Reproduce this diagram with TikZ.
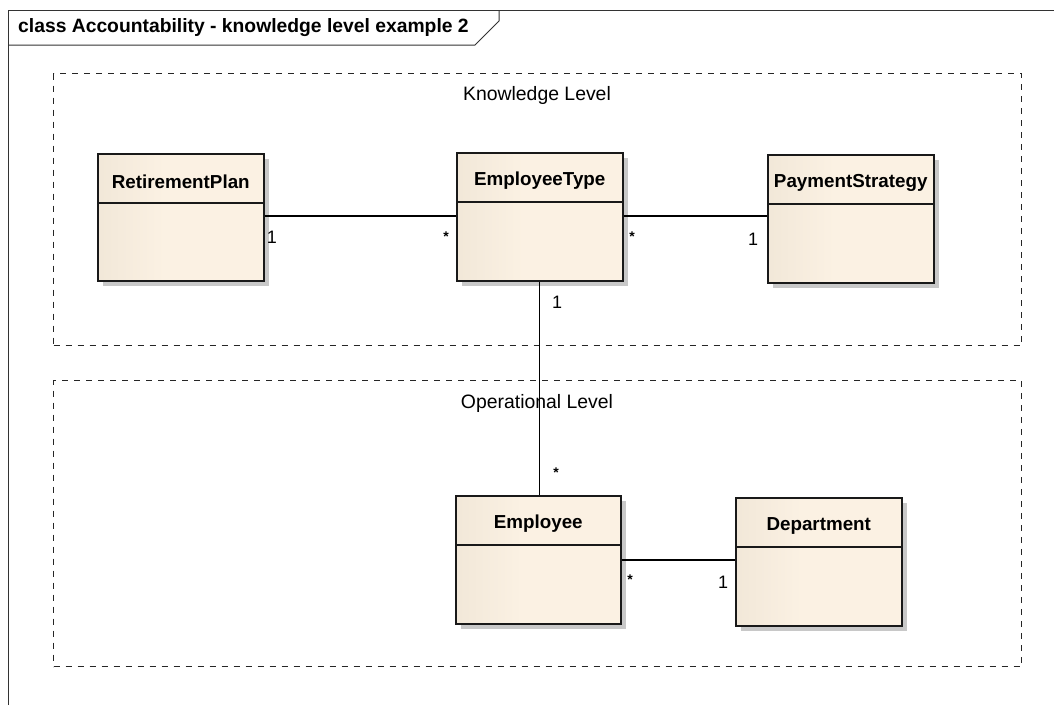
\documentclass[tikz,border=0pt]{standalone}
\usepackage{fontspec}
\setmainfont{Liberation Sans}
\usetikzlibrary{calc}
\definecolor{clsL}{RGB}{230,220,203}
\definecolor{clsR}{RGB}{251,241,227}
\definecolor{shadowc}{RGB}{200,200,200}
\definecolor{linec}{RGB}{25,25,25}
\pgfdeclarehorizontalshading{clsshade}{100bp}{color(0bp)=(clsL); color(45bp)=(clsR); color(100bp)=(clsR)}
\tikzset{
  cls/.style={draw=linec, line width=1.5pt, shading=clsshade, rectangle, inner sep=0pt},
  clsline/.style={draw=linec, line width=1.3pt},
  clsname/.style={font=\fontsize{18.8}{22}\selectfont\bfseries, inner sep=0pt},
  pkg/.style={draw=black!85, line width=1.1pt, dash pattern=on 6pt off 6pt, rectangle, inner sep=0pt},
  pkgname/.style={font=\fontsize{19.4}{23}\selectfont, inner sep=0pt},
  assoc/.style={draw=black, line width=1.2pt},
  mult/.style={font=\fontsize{18}{21}\selectfont, inner sep=0pt},
  star/.style={font=\fontsize{14}{16}\selectfont\bfseries, inner sep=0pt},
  frameline/.style={draw=black!80, line width=1pt}
}
\newcommand\umlclass[6]{%
  \fill[shadowc] (#2+6,#3+6) rectangle ++(#4,#5);
  \node[cls, minimum width=#4, minimum height=#5, anchor=north west] (#1) at (#2,#3) {};
  \draw[clsline] ([yshift=-50pt]#1.north west) -- ([yshift=-50pt]#1.north east);
  \node[clsname] (#1-name) at ([yshift=-29pt]#1.north) {#6};
}
\begin{document}
\begin{tikzpicture}[x=1pt, y=-1pt]
\useasboundingbox[fill=white] (0,0) rectangle (1054,705);
% frame
\draw[frameline] (8,705) -- (8,10) -- (1054,10);
\draw[frameline] (8,45) -- (475,45) -- (499,21) -- (499,10);
\node[font=\fontsize{19.3}{23}\selectfont\bfseries, anchor=west, inner sep=0pt] (title) at (18,28) {class Accountability - knowledge level example 2};
% packages
\node[pkg, minimum width=968, minimum height=272, anchor=north west] (kl) at (53,73) {};
\node[pkgname] (kl-name) at (537,95) {Knowledge Level};
\node[pkg, minimum width=968, minimum height=286, anchor=north west] (ol) at (53,380) {};
\node[pkgname] (ol-name) at (537,403) {Operational Level};
% classes
\umlclass{rp}{97}{153}{166}{127}{RetirementPlan}
\umlclass{et}{456}{152}{166}{128}{EmployeeType}
\umlclass{ps}{767}{154}{166}{128}{PaymentStrategy}
\umlclass{emp}{455}{495}{165}{128}{Employee}
\umlclass{dept}{735}{497}{166}{128}{Department}
% associations
\draw[assoc] (rp.east |- 0,216) -- (et.west |- 0,216);
\draw[assoc] (et.east |- 0,216) -- (ps.west |- 0,216);
\draw[assoc] (et.south) -- (et.south |- emp.north);
\draw[assoc] (emp.east |- 0,560) -- (dept.west |- 0,560);
% multiplicities
\node[mult] (m1) at (272,237) {1};
\node[star] (m2) at (446,237) {*};
\node[star] (m3) at (632,237) {*};
\node[mult] (m4) at (753,239) {1};
\node[mult] (m5) at (557,302) {1};
\node[star] (m6) at (556,473) {*};
\node[star] (m7) at (630,580) {*};
\node[mult] (m8) at (723,582) {1};
\end{tikzpicture}
\end{document}
